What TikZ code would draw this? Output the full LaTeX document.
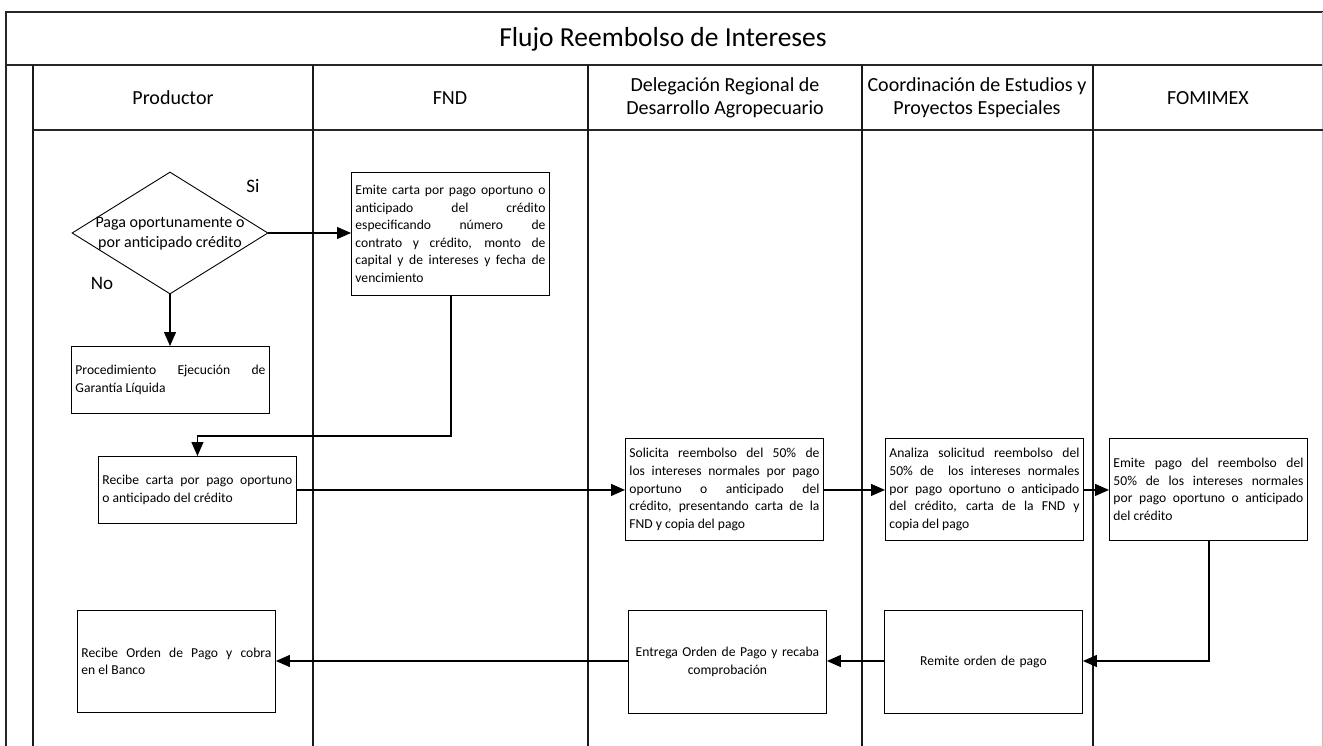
\documentclass[tikz,border=0pt]{standalone}
\usepackage{fontspec}
\setmainfont{Carlito}
\usetikzlibrary{arrows.meta,shapes.geometric}
\begin{document}
\begin{tikzpicture}[x=1pt,y=-1pt,
  frame/.style={line width=1.2pt,draw=black!85},
  lane/.style={line width=1.2pt,draw=black!90},
  box/.style={draw,line width=0.9pt,text width=190pt,inner sep=4pt,align=justify,
    font=\fontsize{13.6}{17.6}\selectfont,anchor=north west},
  cbox/.style={box,align=center},
  decision/.style={draw,line width=0.9pt,diamond,minimum width=196pt,minimum height=122pt,inner sep=0pt},
  hdr/.style={font=\fontsize{20}{23}\selectfont,align=center},
  flow/.style={line width=1.2pt,-{Triangle[length=14pt,width=12pt]}},
  plain/.style={line width=1.2pt}]
\useasboundingbox (0,0) rectangle (1323,746);
% frame
\draw[frame] (6,746) -- (6,12) -- (1323,12);
\draw[frame] (6,65) -- (1323,65);
\draw[line width=0.6pt,black!25] (1322,12) -- (1322,746);
\draw[lane] (33,65) -- (33,746);
\draw[frame] (33,130) -- (1323,130);
\foreach \x in {313,588,862,1093} \draw[lane] (\x,65) -- (\x,746);
% title and headers
\node[font=\fontsize{27.5}{32}\selectfont] (title) at (663,39) {Flujo Reembolso de Intereses};
\node[hdr] (h1) at (173,98) {Productor};
\node[hdr] (h2) at (450,98) {FND};
\node[hdr] (h3) at (725,98) {Delegación Regional de\\Desarrollo Agropecuario};
\node[hdr] (h4) at (977,98) {Coordinación de Estudios y\\Proyectos Especiales};
\node[hdr] (h5) at (1208,98) {FOMIMEX};
% decision
\node[decision] (dia) at (170,233) {};
\node[font=\fontsize{16}{20}\selectfont,align=center] (diatext) at (170,234) {Paga oportunamente o\\por anticipado crédito};
\node[font=\fontsize{19}{22}\selectfont] (si) at (253,186) {Si};
\node[font=\fontsize{19}{22}\selectfont] (no) at (102,283) {No};
% boxes
\node[box,minimum height=123pt] (fnd) at (351,172) {Emite carta por pago oportuno o\linebreak anticipado del crédito\linebreak especificando número de\linebreak contrato y crédito, monto de\linebreak capital y de intereses y fecha de\linebreak vencimiento};
\node[box,minimum height=67pt] (proc) at (71,346) {Procedimiento Ejecución de\linebreak Garantía Líquida};
\node[box,minimum height=67pt] (recibe) at (98,456) {Recibe carta por pago oportuno\linebreak o anticipado del crédito};
\node[box,minimum height=102pt] (solicita) at (625,438) {Solicita reembolso del 50\% de\linebreak los intereses normales por pago\linebreak oportuno o anticipado del\linebreak crédito, presentando carta de la\linebreak FND y copia del pago};
\node[box,minimum height=102pt] (analiza) at (885,438) {Analiza solicitud reembolso del\linebreak 50\% de\ \ los intereses normales\linebreak por pago oportuno o anticipado\linebreak del crédito, carta de la FND y\linebreak copia del pago};
\node[box,minimum height=102pt] (emite) at (1109,438) {Emite pago del reembolso del\linebreak 50\% de los intereses normales\linebreak por pago oportuno o anticipado\linebreak del crédito};
\node[box,minimum height=102pt] (orden) at (77,610) {Recibe Orden de Pago y cobra\linebreak en el Banco};
\node[cbox,minimum height=103pt] (entrega) at (628,610) {Entrega Orden de Pago y recaba\\comprobación};
\node[cbox,minimum height=103pt] (remite) at (884,610) {Remite orden de pago};
% connectors
\draw[flow] (dia.east) -- (fnd.west |- dia.east);
\draw[flow] (dia.south) -- (proc.north -| dia.south);
\coordinate (c1) at (451,436);
\draw[flow] (fnd.south -| c1) -- (c1) -- (c1 -| recibe.north) -- (recibe.north);
\draw[flow] (recibe.east) -- (solicita.west |- recibe.east);
\draw[flow] (solicita.east |- recibe.east) -- (analiza.west |- recibe.east);
\draw[flow] (analiza.east |- recibe.east) -- (emite.west |- recibe.east);
\coordinate (c2) at (1209,661);
\draw[flow] (emite.south -| c2) -- (c2) -- (remite.east |- c2);
\draw[flow] (remite.west |- c2) -- (entrega.east |- c2);
\draw[flow] (entrega.west |- c2) -- (orden.east |- c2);
\end{tikzpicture}
\end{document}
